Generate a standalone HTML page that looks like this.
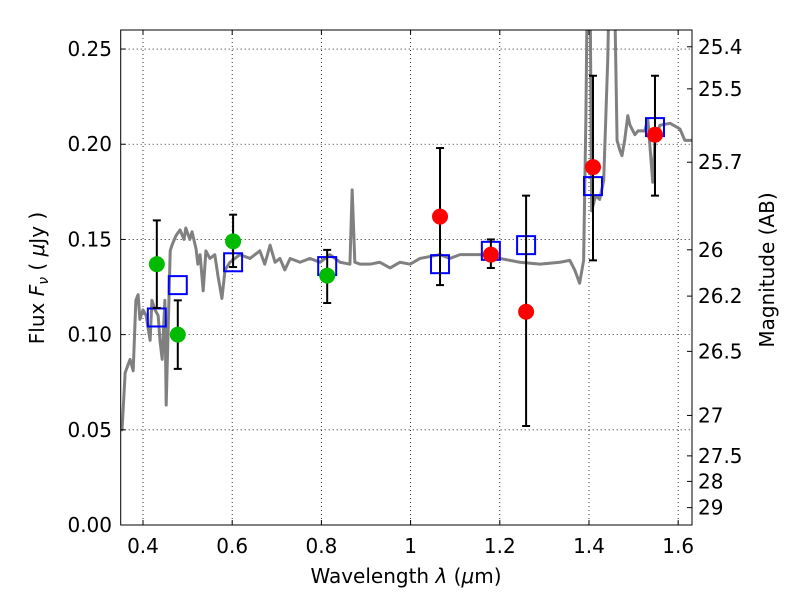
<!DOCTYPE html>
<html><head><meta charset="utf-8"><style>
body{margin:0;background:#fff;}
svg text{font-family:"DejaVu Sans","Liberation Sans",sans-serif;fill:#000;}
</style></head><body>
<svg id="c" width="800" height="600" xmlns="http://www.w3.org/2000/svg">
<defs><clipPath id="clip"><rect x="120.7" y="30" width="571.3" height="495"/></clipPath></defs>
<rect width="800" height="600" fill="#fff"/>
<g id="grid"></g>
<g id="spec" clip-path="url(#clip)"></g>
<g id="marks" clip-path="url(#clip)"></g>
<rect x="120.7" y="30" width="571.3" height="495" fill="none" stroke="#000" stroke-width="1"/>
<g id="axes"></g>
<text x="406" y="583" font-size="20" text-anchor="middle">Wavelength  <tspan font-style="italic">λ</tspan> (<tspan font-style="italic">μ</tspan>m)</text>
<text transform="translate(44,278) rotate(-90)" font-size="20" text-anchor="middle">Flux  <tspan font-style="italic">F<tspan font-size="14" dy="4">ν</tspan></tspan><tspan dy="-4">  (  </tspan><tspan font-style="italic">μ</tspan>Jy )</text>
<text transform="translate(774,270) rotate(-90)" font-size="20" text-anchor="middle">Magnitude (AB)</text>
</svg>
<script>
const xTicks=[0.4,0.6,0.8,1.0,1.2,1.4,1.6];
const xTickLabels=["0.4","0.6","0.8","1","1.2","1.4","1.6"];
const yTicks=[0,0.05,0.10,0.15,0.20,0.25];
const yTickLabels=["0.00","0.05","0.10","0.15","0.20","0.25"];
const magTicks=[25.4,25.5,25.7,26,26.2,26.5,27,27.5,28,29];
const magLabels=["25.4","25.5","25.7","26","26.2","26.5","27","27.5","28","29"];
const greenX=[0.431,0.478,0.602,0.813];
const greenY=[0.137,0.100,0.149,0.131];
const greenHi=[0.160,0.118,0.163,0.1445];
const greenLo=[0.114,0.082,0.1355,0.1166];
const redX=[1.066,1.180,1.259,1.409,1.548];
const redY=[0.162,0.142,0.112,0.188,0.205];
const redHi=[0.198,0.150,0.173,0.236,0.236];
const redLo=[0.126,0.135,0.052,0.139,0.173];
const sqX=[0.431,0.478,0.602,0.813,1.066,1.180,1.259,1.409,1.548];
const sqY=[0.109,0.126,0.138,0.136,0.137,0.144,0.147,0.178,0.209];
const specL=[0.350,0.353,0.360,0.371,0.378,0.384,0.389,0.393,0.400,0.407,0.416,0.420,0.427,0.434,0.438,0.443,0.449,0.452,0.461,0.465,0.474,0.483,0.492,0.496,0.505,0.510,0.519,0.523,0.528,0.535,0.541,0.550,0.561,0.568,0.577,0.584,0.595,0.617,0.640,0.662,0.673,0.685,0.696,0.707,0.718,0.730,0.752,0.774,0.797,0.819,0.842,0.864,0.869,0.875,0.887,0.909,0.931,0.954,0.976,0.999,1.021,1.043,1.066,1.088,1.111,1.156,1.200,1.245,1.290,1.335,1.357,1.368,1.379,1.388,1.393,1.397,1.402,1.406,1.415,1.424,1.433,1.442,1.447,1.456,1.463,1.469,1.474,1.480,1.487,1.492,1.503,1.510,1.525,1.532,1.543,1.548,1.559,1.582,1.604,1.615,1.631];
const specF=[0.050,0.050,0.080,0.087,0.081,0.118,0.121,0.108,0.113,0.110,0.097,0.118,0.113,0.110,0.097,0.087,0.118,0.063,0.144,0.147,0.152,0.155,0.150,0.156,0.150,0.154,0.145,0.137,0.142,0.123,0.144,0.140,0.142,0.131,0.119,0.134,0.138,0.142,0.140,0.144,0.137,0.147,0.138,0.140,0.134,0.140,0.138,0.140,0.138,0.142,0.138,0.137,0.176,0.138,0.137,0.137,0.138,0.135,0.138,0.137,0.140,0.141,0.142,0.140,0.142,0.142,0.140,0.138,0.137,0.138,0.139,0.134,0.127,0.139,0.213,0.300,0.300,0.165,0.173,0.171,0.181,0.244,0.300,0.300,0.202,0.197,0.194,0.202,0.215,0.210,0.205,0.207,0.207,0.213,0.180,0.202,0.210,0.211,0.208,0.202,0.202];
const X0=0.35,X1=1.631,PX0=120.7,PX1=692,Y0=0,Y1=0.26,PY0=525,PY1=30;
const sx=v=>PX0+(v-X0)/(X1-X0)*(PX1-PX0);
const sy=v=>PY0-(v-Y0)/(Y1-Y0)*(PY0-PY1);
const magToFlux=m=>Math.pow(10,(23.9-m)/2.5);
const NS="http://www.w3.org/2000/svg";
function mk(t,a,p){const e=document.createElementNS(NS,t);for(const k in a)e.setAttribute(k,a[k]);p.appendChild(e);return e;}
const grid=document.getElementById('grid'),axes=document.getElementById('axes'),spec=document.getElementById('spec'),marks=document.getElementById('marks');
xTicks.forEach((v,i)=>{const x=sx(v);
 const g=mk('line',{x1:x,x2:x,y1:PY1,y2:PY0,stroke:'#000','stroke-width':0.8,'stroke-dasharray':'1,3'},grid);
 
 
 mk('line',{x1:x,x2:x,y1:PY0,y2:PY0-5,stroke:'#000'},axes);
 mk('line',{x1:x,x2:x,y1:PY1,y2:PY1+5,stroke:'#000'},axes);
 const t=mk('text',{x:x,y:553,'font-size':20,'text-anchor':'middle'},axes);t.textContent=xTickLabels[i];
 
 
});
yTicks.forEach((v,i)=>{const y=sy(v);
 const g=mk('line',{x1:PX0,x2:PX1,y1:y,y2:y,stroke:'#000','stroke-width':0.8,'stroke-dasharray':'1,3'},grid);
 
 
 mk('line',{x1:PX0,x2:PX0+5,y1:y,y2:y,stroke:'#000'},axes);
 const t=mk('text',{x:112,y:y+7,'font-size':20,'text-anchor':'end'},axes);t.textContent=yTickLabels[i];
 
 
});
magTicks.forEach((m,i)=>{const y=sy(magToFlux(m));
 mk('line',{x1:PX1,x2:PX1-5,y1:y,y2:y,stroke:'#000'},axes);
 const t=mk('text',{x:698,y:y+7,'font-size':20},axes);t.textContent=magLabels[i];
 
 
});
const sp=mk('polyline',{points:specL.map((l,i)=>sx(l)+','+sy(specF[i])).join(' '),fill:'none',stroke:'#808080','stroke-width':3,'stroke-linejoin':'round'},spec);


function err(x,hi,lo){const X=sx(x);
 const e=mk('line',{x1:X,x2:X,y1:sy(hi),y2:sy(lo),stroke:'#000','stroke-width':2},marks);
 
 
 mk('line',{x1:X-4,x2:X+4,y1:sy(hi),y2:sy(hi),stroke:'#000','stroke-width':2},marks);
 mk('line',{x1:X-4,x2:X+4,y1:sy(lo),y2:sy(lo),stroke:'#000','stroke-width':2},marks);}
sqX.forEach((v,i)=>{const r=mk('rect',{x:sx(v)-9,y:sy(sqY[i])-9,width:18,height:18,fill:'none',stroke:'#0000ff','stroke-width':2},marks);
 
 });
greenX.forEach((v,i)=>{err(v,greenHi[i],greenLo[i]);
 const c=mk('circle',{cx:sx(v),cy:sy(greenY[i]),r:8,fill:'#00bb00'},marks);
 
 });
redX.forEach((v,i)=>{err(v,redHi[i],redLo[i]);
 const c=mk('circle',{cx:sx(v),cy:sy(redY[i]),r:8,fill:'#ff0000'},marks);
 
 });
</script>
</body></html>
